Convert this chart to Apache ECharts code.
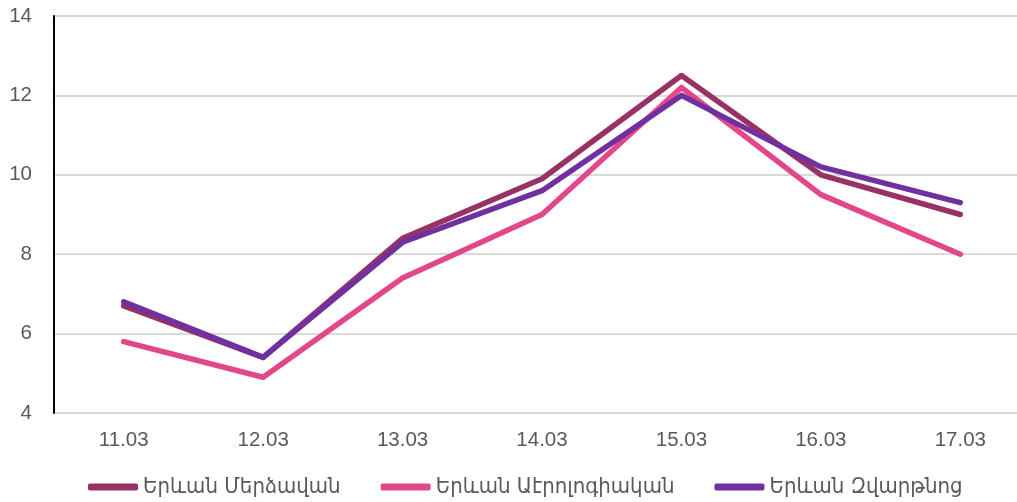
<!DOCTYPE html>
<html>
<head>
<meta charset="utf-8">
<script src="https://cdn.jsdelivr.net/npm/echarts@6/dist/echarts.min.js"></script>
<style>
  html, body { margin: 0; padding: 0; background: #fff; }
  #chart { width: 1017px; height: 502px; }
</style>
</head>
<body>
<div id="chart"></div>
<script>
const days = ['11.03', '12.03', '13.03', '14.03', '15.03', '16.03', '17.03'];
const merdzavan = [6.7, 5.4, 8.4, 9.9, 12.5, 10.0, 9.0];
const aerologiakan = [5.8, 4.9, 7.4, 9.0, 12.2, 9.5, 8.0];
const zvartnots = [6.8, 5.4, 8.3, 9.6, 12.0, 10.2, 9.3];
const seriesNames = ['Երևան Մերձավան', 'Երևան Աէրոլոգիական', 'Երևան Զվարթնոց'];
const colors = ['#983264', '#e2478a', '#7030a0'];

const chart = echarts.init(document.getElementById('chart'));

function lineSeries(name, data, color) {
  return {
    name: name,
    type: 'line',
    data: data,
    showSymbol: false,
    symbol: 'none',
    lineStyle: { color: color, width: 5.5, cap: 'round', join: 'round' },
    itemStyle: { color: color }
  };
}

const option = {
  animation: false,
  color: colors,
  grid: {
    left: 54,
    top: 16,
    width: 976,
    height: 397,
    outerBoundsMode: 'none'
  },
  legend: {
    left: 83,
    top: 471,
    icon: 'roundRect',
    itemWidth: 50,
    itemHeight: 7,
    itemGap: 40,
    textStyle: {
      fontFamily: 'DejaVu Sans Condensed',
      fontSize: 22,
      color: '#595959'
    }
  },
  xAxis: {
    type: 'category',
    data: days,
    axisTick: { show: false },
    axisLine: { show: false },
    axisLabel: {
      margin: 17,
      fontFamily: 'Liberation Sans',
      fontSize: 20.5,
      color: '#595959'
    }
  },
  yAxis: {
    type: 'value',
    min: 4,
    max: 14,
    interval: 2,
    axisLine: { show: true, lineStyle: { color: '#000', width: 2 } },
    axisTick: { show: false },
    axisLabel: {
      margin: 22,
      fontFamily: 'Liberation Sans',
      fontSize: 20.5,
      color: '#595959'
    },
    splitLine: { lineStyle: { color: '#d9d9d9', width: 2 } }
  },
  series: [
    lineSeries(seriesNames[0], merdzavan, colors[0]),
    lineSeries(seriesNames[1], aerologiakan, colors[1]),
    lineSeries(seriesNames[2], zvartnots, colors[2])
  ]
};

option && chart.setOption(option);
</script>
</body>
</html>
